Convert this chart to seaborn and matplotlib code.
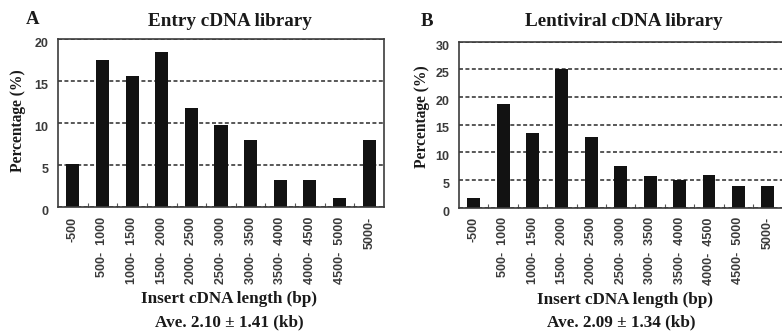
import matplotlib
matplotlib.use("Agg")
import matplotlib.pyplot as plt
import matplotlib.transforms as mtrans
import seaborn as sns

# insert length bins and the percentage of clones in each
bins = ["-500", "500-  1000", "1000-  1500", "1500-  2000", "2000-  2500",
        "2500-  3000", "3000-  3500", "3500-  4000", "4000-  4500",
        "4500-  5000", "5000-"]
entry_pct = [5.1, 17.5, 15.6, 18.5, 11.8, 9.8, 8.0, 3.2, 3.2, 1.1, 8.0]
lenti_pct = [1.8, 18.7, 13.4, 25.0, 12.7, 7.5, 5.7, 4.9, 5.8, 3.9, 3.9]

entry_ticks = [0, 5, 10, 15, 20]
lenti_ticks = [0, 5, 10, 15, 20, 25, 30]

sns.set_style("white")
serif = ["Liberation Serif", "DejaVu Serif"]
sans = ["Liberation Sans", "DejaVu Sans"]
plt.rcParams["font.family"] = sans

W, H = 782, 332
fig = plt.figure(figsize=(W / 100, H / 100), dpi=100)


def px(x, y):
    return x / W, 1 - y / H


def panel(rect, values, yticks):
    ax = fig.add_axes(rect)
    sns.barplot(x=bins, y=values, ax=ax, color="#121212", width=0.44,
                saturation=1, edgecolor="#121212", linewidth=0, zorder=3)
    ax.set_xlim(-0.5, len(bins) - 0.5)
    ax.set_ylim(yticks[0], yticks[-1])
    ax.set_yticks(yticks)
    ax.set_xticks(range(len(bins)))
    ax.set_xticklabels(bins, rotation=90, fontsize=9, fontweight="bold",
                       color="#3a3a3a")
    ax.set_xticks([i + 0.5 for i in range(len(bins) - 1)], minor=True)
    ax.tick_params(axis="x", which="major", length=0, pad=7)
    ax.tick_params(axis="x", which="minor", direction="in", length=3,
                   width=0.8, color="#555555", bottom=True)
    ax.tick_params(axis="y", length=0, pad=7, labelsize=9,
                   labelcolor="#3a3a3a")
    for lab in ax.get_yticklabels():
        lab.set_fontweight("bold")
        lab.set_transform(lab.get_transform() +
                          mtrans.ScaledTranslation(0, -0.035, fig.dpi_scale_trans))
    ax.yaxis.grid(True, color="#2a2a2a", linestyle=(0, (2.6, 1.6)),
                  linewidth=1.1, zorder=0)
    ax.set_axisbelow(True)
    for s in ax.spines.values():
        s.set_color("#3c3c3c")
        s.set_linewidth(1.2)
        s.set_zorder(4)
    ax.set_xlabel("")
    ax.set_ylabel("")
    return ax


# axes rectangles from pixel edges
ax_a = panel([58 / W, 1 - 207 / H, (384 - 58) / W, (207 - 39) / H],
             entry_pct, entry_ticks)
ax_b = panel([459 / W, 1 - 207.5 / H, (782.5 - 459) / W, (207.5 - 41.5) / H],
             lenti_pct, lenti_ticks)

bold_serif = dict(family=serif, fontweight="bold", color="#1a1a1a",
                  ha="center", va="center")

fig.text(*px(33, 20), "A", fontsize=13.5, **bold_serif)
fig.text(*px(427, 21), "B", fontsize=13.5, **bold_serif)
fig.text(*px(229.5, 22), "Entry cDNA library", fontsize=13.8, **bold_serif)
fig.text(*px(624, 22), "Lentiviral cDNA library", fontsize=13.8, **bold_serif)

fig.text(*px(18, 121), "Percentage (%)", fontsize=11.2, rotation=90,
         **bold_serif)
fig.text(*px(422, 117), "Percentage (%)", fontsize=11.2, rotation=90,
         **bold_serif)

fig.text(*px(229, 299), "Insert cDNA length (bp)", fontsize=12.3, **bold_serif)
fig.text(*px(625, 300), "Insert cDNA length (bp)", fontsize=12.3, **bold_serif)
fig.text(*px(229.5, 322), "Ave. 2.10 \u00b1 1.41 (kb)", fontsize=12.3,
         **bold_serif)
fig.text(*px(621, 322), "Ave. 2.09 \u00b1 1.34 (kb)", fontsize=12.3,
         **bold_serif)

fig.savefig("out.png", dpi=100)
